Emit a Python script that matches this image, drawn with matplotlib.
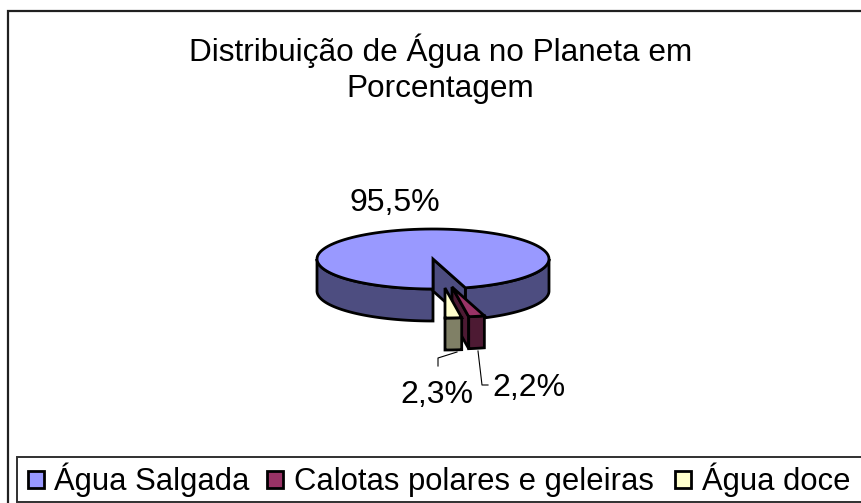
"""Distribuicao de agua: Excel style exploded 3D pie, drawn with patches."""

import numpy as np
import matplotlib
matplotlib.use("Agg")
import matplotlib.pyplot as plt
from matplotlib.patches import Polygon, Rectangle

plt.rcParams["font.family"] = ["Liberation Sans", "DejaVu Sans"]

categories = ["Água Salgada", "Calotas polares e geleiras", "Água doce"]
values = [95.5, 2.2, 2.3]

top_colors = ["#9999FF", "#993366", "#FFFFCC"]
side_colors = ["#4D4D80", "#4D1A33", "#808066"]

# pixel geometry of the pie
CX, CY = 433, 259
RX, RY = 116, 30
DEPTH = 32
OFFSETS = [(0, 0), (19, 28), (12, 29)]
LW = 2.0

fig = plt.figure(figsize=(8.61, 5.03), dpi=100)
ax = fig.add_axes([0, 0, 1, 1])
ax.set_xlim(0, 861)
ax.set_ylim(503, 0)
ax.axis("off")

# outer chart frame, right and bottom sides fall off the picture
ax.add_patch(Rectangle((8, 11), 870, 510, fc="white", ec="#202020", lw=1.6))


def rim(a0, a1, cx, cy):
    t = np.radians(np.linspace(a0, a1, 120))
    return np.column_stack([cx + RX * np.cos(t), cy - RY * np.sin(t)])


def face(points, color, z):
    ax.add_patch(Polygon(points, closed=True, fc=color, ec="black", lw=LW, joinstyle="miter", zorder=z))


down = np.array([0, DEPTH])

# main slice: rim sides, inner wall, then the top
main_lo = -90 + (values[1] + values[2]) / sum(values) * 360
main_hi = 270
right = rim(main_lo, 0, CX, CY)
face(np.vstack([right, (right + down)[::-1]]), side_colors[0], 2)
left = rim(180, main_hi, CX, CY)
face(np.vstack([left, (left + down)[::-1]]), side_colors[0], 2)
edge = rim(main_lo, main_lo, CX, CY)[0]
apex = np.array([CX, CY])
face([apex, edge, edge + down, apex + down], side_colors[0], 3)
face(np.vstack([[apex], rim(main_lo, main_hi, CX, CY)]), top_colors[0], 4)

# exploded small slices, from the gap edge back to straight down
slice_angles = [main_lo, main_lo - values[1] / sum(values) * 360, -90.0]
for i, z in ((1, 5), (2, 8)):
    a_start, a_end = slice_angles[i - 1], slice_angles[i]
    cx, cy = CX + OFFSETS[i][0], CY + OFFSETS[i][1]
    arc = rim(a_start, a_end, cx, cy)
    apex = np.array([cx, cy])
    # radial wall on the left of the crimson slice is the one facing the viewer
    if i == 1:
        face([apex, arc[-1], arc[-1] + down, apex + down], side_colors[i], z)
    face(np.vstack([arc, (arc + down)[::-1]]), side_colors[i], z + 1)
    face(np.vstack([[apex], arc]), top_colors[i], z + 2)

# data labels and leader lines
labels = [f"{v:.1f}%".replace(".", ",") for v in values]
label_pos = [(395, 203), (529, 388), (437, 395)]
for s, (x, y) in zip(labels, label_pos):
    ax.text(x, y, s, fontsize=23, ha="center", va="center", color="black", zorder=12)
ax.plot([478, 482, 488], [351, 385, 385], color="black", lw=0.8, zorder=1)
ax.plot([457, 438, 438], [352, 358, 366], color="black", lw=0.8, zorder=1)

ax.text(440.5, 69, "Distribuição de Água no Planeta em\nPorcentagem", fontsize=22.7, ha="center",
        va="center", linespacing=1.28)

# legend, right side falls off the picture
ax.add_patch(Rectangle((17, 457), 860, 45, fc="white", ec="#303030", lw=1.4, zorder=10))
swatch_x = [28, 267, 675]
text_x = [54, 294, 702]
for name, c, sx, tx in zip(categories, top_colors, swatch_x, text_x):
    ax.add_patch(Rectangle((sx, 471), 16, 17, fc=c, ec="black", lw=2.0, zorder=11))
    ax.text(tx, 490, name, fontsize=22.3, ha="left", va="baseline", zorder=11)

fig.savefig("out.png", dpi=100)
